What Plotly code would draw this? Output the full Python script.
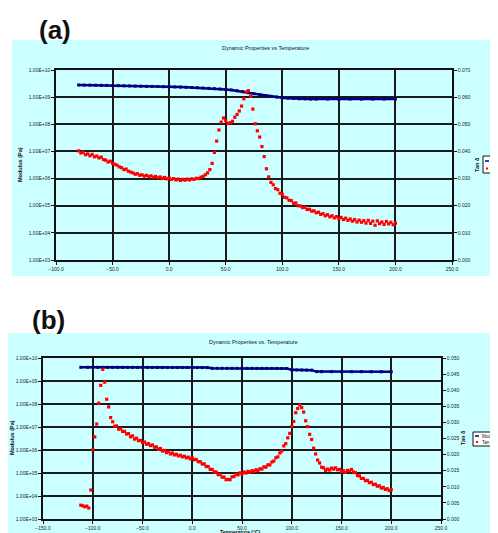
import plotly.graph_objects as go

# The page body has an 8 px margin, so the figure is drawn 8 px in and sized to fit.
OFF = 8
W, H = 498 - OFF, 533 - OFF

# ---------------- Panel (a) data ----------------
temp_a_tan = [
    -80, -78, -76, -74, -72, -70, -68, -66, -64, -62, -60, -58, -56, -54, -52,
    -50, -48, -46, -44, -42, -40, -38, -36, -34, -32, -30, -28, -26, -24, -22,
    -20, -18, -16, -14, -12, -10, -8, -6, -4, -2, 0, 2, 4, 6, 8,
    10, 12, 14, 16, 18, 20, 22, 24, 26, 28, 30, 32, 34, 36, 38,
    40, 42, 44, 46, 48, 50, 52, 54, 56, 58, 60, 62, 64, 66, 68,
    70, 72, 74, 76, 78, 80, 82, 84, 86, 88, 90, 92, 94, 96, 98,
    100, 102, 104, 106, 108, 110, 112, 114, 116, 118, 120, 122, 124, 126, 128,
    130, 132, 134, 136, 138, 140, 142, 144, 146, 148, 150, 152, 154, 156, 158,
    160, 162, 164, 166, 168, 170, 172, 174, 176, 178, 180, 182, 184, 186, 188,
    190, 192, 194, 196, 198, 200]
tan_a = [
    0.0402, 0.0394, 0.0397, 0.0388, 0.0391, 0.0384, 0.0389, 0.0380, 0.0383, 0.0376, 0.0379, 0.0370, 0.0368, 0.0361, 0.0364,
    0.0356, 0.0353, 0.0349, 0.0343, 0.0340, 0.0333, 0.0335, 0.0327, 0.0324, 0.0321, 0.0316, 0.0318, 0.0312, 0.0314, 0.0309,
    0.0312, 0.0307, 0.0310, 0.0305, 0.0308, 0.0303, 0.0306, 0.0301, 0.0304, 0.0299, 0.0302, 0.0297, 0.0300, 0.0295, 0.0298,
    0.0293, 0.0297, 0.0294, 0.0298, 0.0295, 0.0299, 0.0297, 0.0301, 0.0300, 0.0305, 0.0308, 0.0314, 0.0321, 0.0333, 0.0356,
    0.0396, 0.0438, 0.0479, 0.0508, 0.0523, 0.0514, 0.0503, 0.0506, 0.0511, 0.0526, 0.0536, 0.0549, 0.0567, 0.0594, 0.0619,
    0.0624, 0.0603, 0.0556, 0.0502, 0.0476, 0.0453, 0.0418, 0.0381, 0.0336, 0.0306, 0.0286, 0.0277, 0.0263, 0.0259, 0.0246,
    0.0242, 0.0231, 0.0229, 0.0220, 0.0219, 0.0209, 0.0210, 0.0200, 0.0199, 0.0193, 0.0194, 0.0186, 0.0187, 0.0180, 0.0181,
    0.0174, 0.0176, 0.0168, 0.0171, 0.0163, 0.0167, 0.0159, 0.0163, 0.0155, 0.0160, 0.0152, 0.0157, 0.0149, 0.0154, 0.0146,
    0.0151, 0.0143, 0.0149, 0.0140, 0.0147, 0.0139, 0.0145, 0.0136, 0.0146, 0.0135, 0.0143, 0.0128, 0.0144, 0.0134, 0.0140,
    0.0131, 0.0142, 0.0133, 0.0139, 0.0130, 0.0136]

temp_a_mod = [-80, -75, -70, -65, -60, -55, -50, -45, -40, -35, -30, -25, -20, -15, -10, -5,
              0, 5, 10, 15, 20, 25, 30, 35, 40, 45, 50, 55, 60, 65, 70, 75, 80, 85, 90, 95,
              100, 105, 110, 115, 120, 125, 130, 140, 150, 160, 170, 180, 190, 200]
mod_a = [2.80e9, 2.78e9, 2.77e9, 2.75e9, 2.73e9, 2.71e9, 2.68e9, 2.65e9, 2.62e9, 2.59e9, 2.56e9, 2.53e9,
         2.50e9, 2.48e9, 2.46e9, 2.43e9, 2.41e9, 2.38e9, 2.35e9, 2.31e9, 2.27e9, 2.22e9, 2.17e9, 2.11e9,
         2.05e9, 1.99e9, 1.92e9, 1.83e9, 1.72e9, 1.59e9, 1.45e9, 1.33e9, 1.23e9, 1.15e9, 1.07e9, 1.01e9,
         9.5e8, 9.2e8, 8.9e8, 8.7e8, 8.6e8, 8.5e8, 8.5e8, 8.5e8, 8.5e8, 8.5e8, 8.5e8, 8.5e8, 8.5e8, 8.5e8]

# ---------------- Panel (b) data ----------------
temp_b_tan = [
    -112, -110, -108, -106, -104, -102, -100, -98, -96, -94, -92, -90, -88, -86, -84,
    -82, -80, -78, -76, -74, -72, -70, -68, -66, -64, -62, -60, -58, -56, -54,
    -52, -50, -48, -46, -44, -42, -40, -38, -36, -34, -32, -30, -28, -26, -24,
    -22, -20, -18, -16, -14, -12, -10, -8, -6, -4, -2, 0, 2, 4, 6,
    8, 10, 12, 14, 16, 18, 20, 22, 24, 26, 28, 30, 32, 34, 36,
    38, 40, 42, 44, 46, 48, 50, 52, 54, 56, 58, 60, 62, 64, 66,
    68, 70, 72, 74, 76, 78, 80, 82, 84, 86, 88, 90, 92, 94, 96,
    98, 100, 102, 104, 106, 108, 110, 112, 114, 116, 118, 120, 122, 124, 126,
    128, 130, 132, 134, 136, 138, 140, 142, 144, 146, 148, 150, 152, 154, 156,
    158, 160, 162, 164, 166, 168, 170, 172, 174, 176, 178, 180, 182, 184, 186,
    188, 190, 192, 194, 196, 198, 200]
tan_b = [
    0.0043, 0.0041, 0.0038, 0.0040, 0.0034, 0.0090, 0.0215, 0.0255, 0.0295, 0.0360, 0.0415, 0.0465, 0.0425, 0.0372, 0.0348,
    0.0315, 0.0302, 0.0288, 0.0289, 0.0279, 0.0280, 0.0272, 0.0272, 0.0264, 0.0265, 0.0255, 0.0258, 0.0248, 0.0251, 0.0243,
    0.0244, 0.0238, 0.0239, 0.0232, 0.0234, 0.0228, 0.0230, 0.0223, 0.0224, 0.0217, 0.0219, 0.0211, 0.0213, 0.0206, 0.0209,
    0.0202, 0.0205, 0.0199, 0.0201, 0.0196, 0.0198, 0.0193, 0.0195, 0.0190, 0.0192, 0.0187, 0.0190, 0.0184, 0.0185, 0.0178,
    0.0178, 0.0171, 0.0171, 0.0163, 0.0163, 0.0154, 0.0154, 0.0146, 0.0146, 0.0138, 0.0138, 0.0130, 0.0130, 0.0122, 0.0123,
    0.0122, 0.0131, 0.0132, 0.0139, 0.0137, 0.0143, 0.0140, 0.0146, 0.0143, 0.0148, 0.0145, 0.0150, 0.0148, 0.0153, 0.0150,
    0.0156, 0.0155, 0.0162, 0.0161, 0.0168, 0.0168, 0.0177, 0.0180, 0.0190, 0.0193, 0.0205, 0.0211, 0.0227, 0.0234, 0.0252,
    0.0266, 0.0287, 0.0303, 0.0330, 0.0343, 0.0354, 0.0346, 0.0332, 0.0305, 0.0287, 0.0263, 0.0247, 0.0220, 0.0202, 0.0183,
    0.0174, 0.0161, 0.0159, 0.0151, 0.0155, 0.0152, 0.0158, 0.0155, 0.0159, 0.0153, 0.0154, 0.0148, 0.0150, 0.0145, 0.0151,
    0.0149, 0.0154, 0.0146, 0.0144, 0.0135, 0.0134, 0.0126, 0.0126, 0.0119, 0.0120, 0.0113, 0.0114, 0.0107, 0.0108, 0.0102,
    0.0103, 0.0096, 0.0098, 0.0092, 0.0094, 0.0088, 0.0091]

temp_b_mod = [-112, -105, -100, -95, -90, -85, -80, -75, -70, -65, -60, -55, -50, -45, -40, -35, -30,
              -25, -20, -15, -10, -5, 0, 5, 10, 15, 20, 25, 30, 35, 40, 45, 50, 55, 60, 65, 70, 75,
              80, 85, 90, 95, 100, 105, 110, 115, 120, 125, 130, 140, 150, 160, 170, 180, 190, 200]
mod_b = [3.94e9, 3.94e9, 3.94e9, 3.94e9, 3.93e9, 3.93e9, 3.93e9, 3.93e9, 3.92e9, 3.92e9, 3.92e9, 3.91e9,
         3.91e9, 3.91e9, 3.90e9, 3.90e9, 3.89e9, 3.89e9, 3.88e9, 3.88e9, 3.87e9, 3.86e9, 3.85e9, 3.84e9,
         3.83e9, 3.82e9, 3.56e9, 3.56e9, 3.55e9, 3.55e9, 3.55e9, 3.55e9, 3.54e9, 3.54e9, 3.54e9, 3.53e9,
         3.53e9, 3.52e9, 3.52e9, 3.51e9, 3.50e9, 3.48e9, 3.05e9, 3.02e9, 3.00e9, 2.98e9, 2.96e9, 2.56e9,
         2.55e9, 2.55e9, 2.54e9, 2.54e9, 2.54e9, 2.53e9, 2.53e9, 2.52e9]

# ---------------- ticks ----------------
x_ticks_a = [-100, -50, 0, 50, 100, 150, 200, 250]
x_ticks_b = [-150, -100, -50, 0, 50, 100, 150, 200, 250]
mod_tick_vals = [1e3, 1e4, 1e5, 1e6, 1e7, 1e8, 1e9, 1e10]
mod_tick_text = ["1.00E+03", "1.00E+04", "1.00E+05", "1.00E+06",
                 "1.00E+07", "1.00E+08", "1.00E+09", "1.00E+10"]
tan_ticks_a = [0.0, 0.01, 0.02, 0.03, 0.04, 0.05, 0.06, 0.07]
tan_ticks_b = [0.0, 0.005, 0.01, 0.015, 0.02, 0.025, 0.03, 0.035, 0.04, 0.045, 0.05]

title_a = "Dynamic Properties vs Temperature"
title_b = "Dynamic Properties vs. Temperature"
legend_names = ["Modulus E'", "Tan Delta"]

BLUE = "#000080"
RED = "#ff0000"
FONT = "Liberation Sans, Arial, sans-serif"


def fx(p):
    return (p - OFF) / W


def fy(p):
    return 1 - (p - OFF) / H


fig = go.Figure()

fig.add_trace(go.Scatter(x=temp_a_mod, y=mod_a, xaxis="x", yaxis="y", mode="lines+markers",
                         line=dict(color=BLUE, width=2.5), marker=dict(color=BLUE, size=3, symbol="square"),
                         name=legend_names[0], showlegend=False))
fig.add_trace(go.Scatter(x=temp_a_tan, y=tan_a, xaxis="x", yaxis="y2", mode="markers",
                         marker=dict(color=RED, size=3.2, symbol="square"),
                         name=legend_names[1], showlegend=False))
fig.add_trace(go.Scatter(x=temp_b_mod, y=mod_b, xaxis="x2", yaxis="y3", mode="lines+markers",
                         line=dict(color=BLUE, width=2.5), marker=dict(color=BLUE, size=3, symbol="square"),
                         name=legend_names[0], showlegend=False))
fig.add_trace(go.Scatter(x=temp_b_tan, y=tan_b, xaxis="x2", yaxis="y4", mode="markers",
                         marker=dict(color=RED, size=3.2, symbol="square"),
                         name=legend_names[1], showlegend=False))

tickfont = dict(family=FONT, size=5, color="#222222")
common_x = dict(showgrid=True, gridcolor="#1a1a1a", gridwidth=1.5, showline=True, linecolor="#111111",
                linewidth=1.5, mirror=True, ticks="outside", ticklen=3, tickcolor="#111111",
                zeroline=False, tickfont=tickfont, tickformat=".1f", automargin=False)
common_ylog = dict(type="log", range=[3, 10], tickvals=mod_tick_vals, ticktext=mod_tick_text,
                   showgrid=True, gridcolor="#1a1a1a", gridwidth=1.5, showline=True, linecolor="#111111",
                   linewidth=1.5, mirror=True, ticks="outside", ticklen=3, tickcolor="#111111",
                   zeroline=False, tickfont=tickfont, automargin=False)
common_ytan = dict(side="right", showgrid=False, showline=True, linecolor="#111111", linewidth=1.5,
                   ticks="outside", ticklen=3, tickcolor="#111111", zeroline=False, tickfont=tickfont,
                   tickformat=".3f", automargin=False)

fig.update_layout(
    width=W, height=H,
    margin=dict(l=0, r=0, t=0, b=0, autoexpand=False),
    paper_bgcolor="white", plot_bgcolor="white",
    showlegend=False,
    xaxis=dict(domain=[fx(56), fx(452)], anchor="y", range=[-100, 250], tickvals=x_ticks_a, **common_x),
    yaxis=dict(domain=[fy(260), fy(70)], anchor="x", **common_ylog),
    yaxis2=dict(overlaying="y", anchor="x", range=[0, 0.07], tickvals=tan_ticks_a, **common_ytan),
    xaxis2=dict(domain=[fx(43), fx(441)], anchor="y3", range=[-150, 250], tickvals=x_ticks_b, **common_x),
    yaxis3=dict(domain=[fy(519), fy(358)], anchor="x2", **common_ylog),
    yaxis4=dict(overlaying="y3", anchor="x2", range=[0, 0.05], tickvals=tan_ticks_b, **common_ytan),
)

shapes = [
    dict(type="rect", xref="paper", yref="paper", x0=fx(12), x1=1.05, y0=fy(276), y1=fy(40),
         fillcolor="#ccffff", line=dict(width=0), layer="below"),
    dict(type="rect", xref="paper", yref="paper", x0=fx(5), x1=1.05, y0=-0.05, y1=fy(333),
         fillcolor="#ccffff", line=dict(width=0), layer="below"),
    # legend boxes
    dict(type="rect", xref="paper", yref="paper", x0=fx(483), x1=fx(540), y0=fy(173), y1=fy(156),
         fillcolor="white", line=dict(color="#111111", width=1), layer="above"),
    dict(type="rect", xref="paper", yref="paper", x0=fx(473), x1=fx(540), y0=fy(446), y1=fy(432),
         fillcolor="white", line=dict(color="#111111", width=1), layer="above"),
    # legend symbols
    dict(type="line", xref="paper", yref="paper", x0=fx(485), x1=fx(489), y0=fy(161), y1=fy(161),
         line=dict(color=BLUE, width=1.5), layer="above"),
    dict(type="rect", xref="paper", yref="paper", x0=fx(486), x1=fx(488), y0=fy(169.5), y1=fy(167.5),
         fillcolor=RED, line=dict(width=0), layer="above"),
    dict(type="line", xref="paper", yref="paper", x0=fx(475), x1=fx(479), y0=fy(436), y1=fy(436),
         line=dict(color=BLUE, width=1.5), layer="above"),
    dict(type="rect", xref="paper", yref="paper", x0=fx(476), x1=fx(478), y0=fy(443), y1=fy(441),
         fillcolor=RED, line=dict(width=0), layer="above"),
]
fig.update_layout(shapes=shapes)


def ann(text, x, y, size=5, bold=False, angle=0, xanchor="center"):
    t = f"<b>{text}</b>" if bold else text
    return dict(text=t, x=fx(x), y=fy(y), xref="paper", yref="paper", showarrow=False,
                font=dict(family=FONT, size=size, color="#111111"), textangle=angle,
                xanchor=xanchor, yanchor="middle")


annotations = [
    ann("(a)", 55, 30, size=26, bold=True),
    ann("(b)", 48, 320, size=26, bold=True),
    ann(title_a, 265, 48, size=5.5),
    ann(title_b, 253, 342, size=5.5),
    ann("Modulus (Pa)", 20, 165, size=5.5, bold=True, angle=-90),
    ann("Tan δ", 477, 165, size=5.5, bold=True, angle=-90),
    ann("Modulus (Pa)", 12, 438, size=5.5, bold=True, angle=-90),
    ann("Tan δ", 463, 438, size=5.5, bold=True, angle=-90),
    ann("Temperature (°C)", 240, 531.5, size=5, bold=True),
    ann(legend_names[0], 490, 161, size=4.5, xanchor="left"),
    ann(legend_names[1], 490, 168.5, size=4.5, xanchor="left"),
    ann(legend_names[0], 480, 436, size=4.5, xanchor="left"),
    ann(legend_names[1], 480, 442, size=4.5, xanchor="left"),
]
fig.update_layout(annotations=annotations)

fig.write_html("out.html")
